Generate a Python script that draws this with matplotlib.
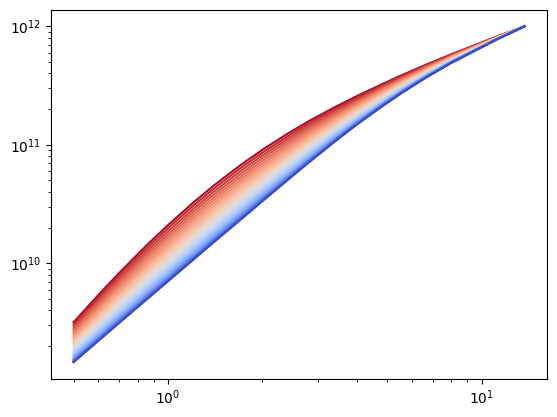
import matplotlib
matplotlib.use("Agg")
import matplotlib.pyplot as plt
import numpy as np

x = [0.5, 0.6, 0.7, 0.85, 1.0, 1.2, 1.4, 1.7, 2.0, 2.4, 2.8,
     3.4, 4.0, 4.8, 5.6, 6.7, 8.0, 11.3, 13.7]

# log10(y) for each curve, bottom (blue) to top (red)
log_y = [
    [9.165, 9.346, 9.498, 9.689, 9.848, 10.027, 10.178, 10.366, 10.524, 10.700, 10.847, 11.027, 11.171, 11.322, 11.443, 11.573, 11.691, 11.896, 12.000],
    [9.167, 9.349, 9.501, 9.692, 9.851, 10.030, 10.181, 10.369, 10.527, 10.703, 10.850, 11.029, 11.173, 11.323, 11.444, 11.574, 11.692, 11.896, 12.000],
    [9.172, 9.354, 9.507, 9.698, 9.858, 10.037, 10.188, 10.375, 10.533, 10.708, 10.854, 11.033, 11.176, 11.326, 11.446, 11.575, 11.693, 11.896, 12.000],
    [9.178, 9.360, 9.514, 9.706, 9.866, 10.045, 10.196, 10.383, 10.540, 10.715, 10.860, 11.038, 11.180, 11.329, 11.449, 11.577, 11.694, 11.897, 12.000],
    [9.184, 9.368, 9.522, 9.715, 9.875, 10.055, 10.205, 10.392, 10.549, 10.722, 10.867, 11.044, 11.185, 11.333, 11.451, 11.579, 11.695, 11.897, 12.000],
    [9.192, 9.377, 9.532, 9.725, 9.886, 10.065, 10.216, 10.403, 10.559, 10.731, 10.875, 11.050, 11.190, 11.337, 11.455, 11.582, 11.697, 11.898, 12.000],
    [9.200, 9.387, 9.542, 9.737, 9.898, 10.078, 10.228, 10.414, 10.570, 10.741, 10.884, 11.057, 11.196, 11.342, 11.459, 11.584, 11.699, 11.898, 12.000],
    [9.210, 9.397, 9.554, 9.749, 9.911, 10.091, 10.241, 10.427, 10.581, 10.752, 10.893, 11.065, 11.203, 11.347, 11.463, 11.587, 11.701, 11.899, 12.000],
    [9.219, 9.408, 9.566, 9.763, 9.924, 10.105, 10.255, 10.440, 10.594, 10.763, 10.903, 11.074, 11.210, 11.352, 11.467, 11.590, 11.703, 11.900, 12.000],
    [9.230, 9.421, 9.579, 9.777, 9.939, 10.120, 10.270, 10.455, 10.608, 10.775, 10.914, 11.083, 11.217, 11.358, 11.472, 11.594, 11.705, 11.900, 12.000],
    [9.241, 9.433, 9.593, 9.792, 9.955, 10.136, 10.286, 10.470, 10.622, 10.788, 10.926, 11.092, 11.225, 11.364, 11.476, 11.597, 11.708, 11.901, 12.000],
    [9.253, 9.447, 9.608, 9.808, 9.971, 10.152, 10.302, 10.486, 10.637, 10.802, 10.938, 11.102, 11.233, 11.371, 11.482, 11.601, 11.710, 11.902, 12.000],
    [9.265, 9.461, 9.623, 9.824, 9.988, 10.170, 10.320, 10.503, 10.653, 10.816, 10.951, 11.113, 11.242, 11.378, 11.487, 11.605, 11.713, 11.903, 12.000],
    [9.278, 9.475, 9.639, 9.841, 10.006, 10.188, 10.338, 10.520, 10.669, 10.831, 10.964, 11.124, 11.251, 11.385, 11.492, 11.609, 11.715, 11.903, 12.000],
    [9.291, 9.491, 9.656, 9.859, 10.025, 10.207, 10.357, 10.538, 10.686, 10.846, 10.978, 11.135, 11.261, 11.392, 11.498, 11.613, 11.718, 11.904, 12.000],
    [9.305, 9.506, 9.673, 9.878, 10.044, 10.227, 10.376, 10.557, 10.704, 10.862, 10.992, 11.147, 11.270, 11.400, 11.504, 11.617, 11.721, 11.905, 12.000],
    [9.319, 9.523, 9.691, 9.897, 10.064, 10.247, 10.396, 10.576, 10.722, 10.879, 11.007, 11.159, 11.281, 11.408, 11.511, 11.622, 11.724, 11.906, 12.000],
    [9.333, 9.539, 9.709, 9.917, 10.085, 10.268, 10.417, 10.596, 10.741, 10.896, 11.022, 11.172, 11.291, 11.416, 11.517, 11.627, 11.728, 11.907, 12.000],
    [9.348, 9.557, 9.728, 9.937, 10.106, 10.289, 10.438, 10.617, 10.760, 10.913, 11.038, 11.185, 11.302, 11.424, 11.524, 11.631, 11.731, 11.908, 12.000],
    [9.364, 9.574, 9.747, 9.958, 10.128, 10.312, 10.460, 10.638, 10.780, 10.931, 11.054, 11.198, 11.313, 11.433, 11.530, 11.636, 11.734, 11.909, 12.000],
    [9.380, 9.593, 9.767, 9.980, 10.150, 10.334, 10.483, 10.660, 10.801, 10.950, 11.070, 11.212, 11.324, 11.442, 11.537, 11.641, 11.738, 11.910, 12.000],
    [9.396, 9.612, 9.788, 10.002, 10.173, 10.358, 10.506, 10.682, 10.822, 10.969, 11.087, 11.226, 11.336, 11.451, 11.545, 11.646, 11.741, 11.911, 12.000],
    [9.413, 9.631, 9.808, 10.024, 10.197, 10.382, 10.530, 10.705, 10.843, 10.988, 11.104, 11.240, 11.348, 11.460, 11.552, 11.652, 11.745, 11.912, 12.000],
    [9.430, 9.650, 9.830, 10.048, 10.221, 10.406, 10.554, 10.728, 10.865, 11.008, 11.122, 11.255, 11.360, 11.470, 11.559, 11.657, 11.748, 11.913, 12.000],
    [9.447, 9.670, 9.852, 10.071, 10.245, 10.431, 10.579, 10.752, 10.888, 11.029, 11.140, 11.270, 11.372, 11.480, 11.567, 11.663, 11.752, 11.914, 12.000],
    [9.465, 9.691, 9.874, 10.095, 10.270, 10.456, 10.604, 10.777, 10.911, 11.049, 11.159, 11.285, 11.385, 11.490, 11.575, 11.668, 11.756, 11.916, 12.000],
    [9.484, 9.712, 9.897, 10.120, 10.296, 10.483, 10.630, 10.802, 10.934, 11.070, 11.178, 11.301, 11.398, 11.500, 11.583, 11.674, 11.760, 11.917, 12.000],
    [9.502, 9.733, 9.920, 10.145, 10.322, 10.509, 10.656, 10.827, 10.958, 11.092, 11.197, 11.317, 11.411, 11.510, 11.591, 11.680, 11.764, 11.918, 12.000],
]

fig = plt.figure(figsize=(5.57, 4.17), dpi=100)
ax = fig.add_axes([0.0916, 0.0911, 0.8905, 0.886])

n = len(log_y)
cmap = plt.get_cmap('coolwarm')
# red curves first so the blue ones end up on top
for i in reversed(range(n)):
    ax.plot(x, 10 ** np.array(log_y[i]), color=cmap(i / (n - 1)))

ax.set_xscale('log')
ax.set_yscale('log')

fig.savefig('out.png', dpi=100)
